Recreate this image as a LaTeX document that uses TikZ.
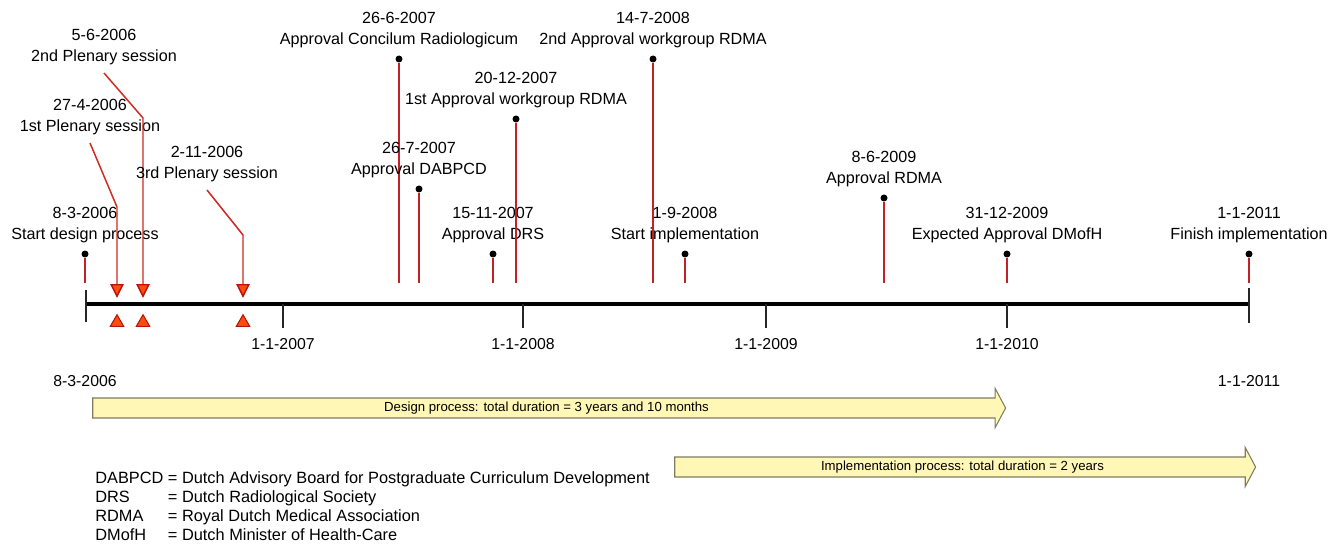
\documentclass[tikz,border=0pt]{standalone}
\usepackage{fontspec}
\setmainfont{Liberation Sans}
\usetikzlibrary{positioning,arrows.meta,shapes.geometric,shapes.arrows,calc}
\definecolor{stemred}{RGB}{200,30,40}
\definecolor{plenred}{RGB}{205,45,35}
\definecolor{markfill}{RGB}{255,75,15}
\definecolor{markedge}{RGB}{185,20,10}
\definecolor{procfill}{RGB}{255,247,182}
\definecolor{procedge}{RGB}{128,124,96}
\newcommand{\evfont}{\fontsize{9.2}{11}\selectfont}
\newcommand{\tickfont}{\fontsize{9}{11}\selectfont}
\newcommand{\procfont}{\fontsize{7.5}{9}\selectfont}
\newcommand{\legfont}{\fontsize{9.3}{10.8}\selectfont}
\tikzset{
  evdot/.style={circle,fill=black,inner sep=0pt,minimum size=0.14cm},
  evstem/.style={draw=stemred,line width=0.7pt},
  evtext/.style={anchor=base,font=\evfont,inner sep=0pt},
  ticktext/.style={anchor=base,font=\tickfont,inner sep=0pt},
  tickline/.style={draw=black!85,line width=0.75pt},
  plenline/.style={draw=plenred,line width=0.85pt,
    -{Triangle[width=0.27cm,length=0.28cm,fill=markfill,color=markedge]}},
  upmark/.style={regular polygon,regular polygon sides=3,fill=markfill,
    draw=markedge,line width=0.6pt,inner sep=0pt,minimum size=0.31cm},
  procarrow/.style={single arrow,draw=procedge,fill=procfill,line width=0.6pt,
    font=\procfont,text height=5.4pt,text depth=1.6pt,inner ysep=1.9pt,
    inner xsep=0pt,single arrow head extend=0.19cm,single arrow tip angle=124}
}

\begin{document}
\begin{tikzpicture}[x=0.02cm,y=0.02cm]
\useasboundingbox (0,0) rectangle (1339,545);

% time axis
\coordinate (axL) at (86,241);
\coordinate (axR) at (1249,241);
\draw[line width=2.2pt] (axL) -- (axR);
\draw[tickline] (86,255) coordinate (axL-top) -- (86,223) coordinate (axL-bot);
\draw[tickline] (1249,257) coordinate (axR-top) -- (1249,222) coordinate (axR-bot);
\foreach \yr/\x in {2007/283,2008/523,2009/766,2010/1007}{
  \coordinate (y\yr) at (\x,241);
  \coordinate (y\yr-end) at (\x,217);
  \draw[tickline] (y\yr) -- (y\yr-end);
  \node[ticktext] (y\yr-lab) at (\x,196) {1-1-\yr};
}

% milestones
\foreach \n/\x/\y/\date/\what in {
  start/85/291/8-3-2006/Start design process,
  concil/399/486/26-6-2007/Approval Concilum Radiologicum,
  dabpcd/419/356/26-7-2007/Approval DABPCD,
  drs/493/291/15-11-2007/Approval DRS,
  rdmaA/516/426/20-12-2007/1st Approval workgroup RDMA,
  rdmaB/653/486/14-7-2008/2nd Approval workgroup RDMA,
  impl/685/291/1-9-2008/Start implementation,
  rdma/884/347/8-6-2009/Approval RDMA,
  dmofh/1007/291/31-12-2009/Expected Approval DMofH,
  finish/1249/291/1-1-2011/Finish implementation}{
  \node[evdot] (\n) at (\x,\y) {};
  \node[evtext] (\n-what) at ($(\n)+(0,14)$) {\what};
  \node[evtext] (\n-date) at ($(\n)+(0,35)$) {\date};
  \coordinate (\n-foot) at (\x,262);
  \draw[evstem] (\n) -- (\n-foot);
}

% plenary sessions
\foreach \n/\x/\y/\bx/\by/\date/\what in {
  plenA/90/402/117/338/27-4-2006/1st Plenary session,
  plenB/104/472/143/427/5-6-2006/2nd Plenary session,
  plenC/207/355/243/310/2-11-2006/3rd Plenary session}{
  \coordinate (\n) at (\x,\y);
  \node[evtext] (\n-what) at ($(\n)+(0,11)$) {\what};
  \node[evtext] (\n-date) at ($(\n)+(0,32)$) {\date};
  \coordinate (\n-bend) at (\bx,\by);
  \coordinate (\n-tip) at (\bx,247);
  \draw[plenline] (\n) -- (\n-bend) -- (\n-tip);
  \node[upmark] (\n-mark) at (\bx,222.5) {};
}

% durations
\node[ticktext] (startlab) at (85,159) {8-3-2006};
\node[ticktext] (endlab) at (1249,159) {1-1-2011};
\node[procarrow,minimum height=18.26cm] (design) at (546.5,137)
  {Design process: total duration = 3 years and 10 months};
\node[procarrow,minimum height=11.62cm] (implproc) at (962.5,78)
  {Implementation process: total duration = 2 years};

% abbreviations
\node[anchor=base west,inner sep=0pt,font=\legfont] (legend) at (95,61.5) {%
  \begin{tabular}[t]{@{}l@{ }l@{}}
  DABPCD & = Dutch Advisory Board for Postgraduate Curriculum Development\\
  DRS    & = Dutch Radiological Society\\
  RDMA   & = Royal Dutch Medical Association\\
  DMofH  & = Dutch Minister of Health-Care
  \end{tabular}};
\end{tikzpicture}
\end{document}
